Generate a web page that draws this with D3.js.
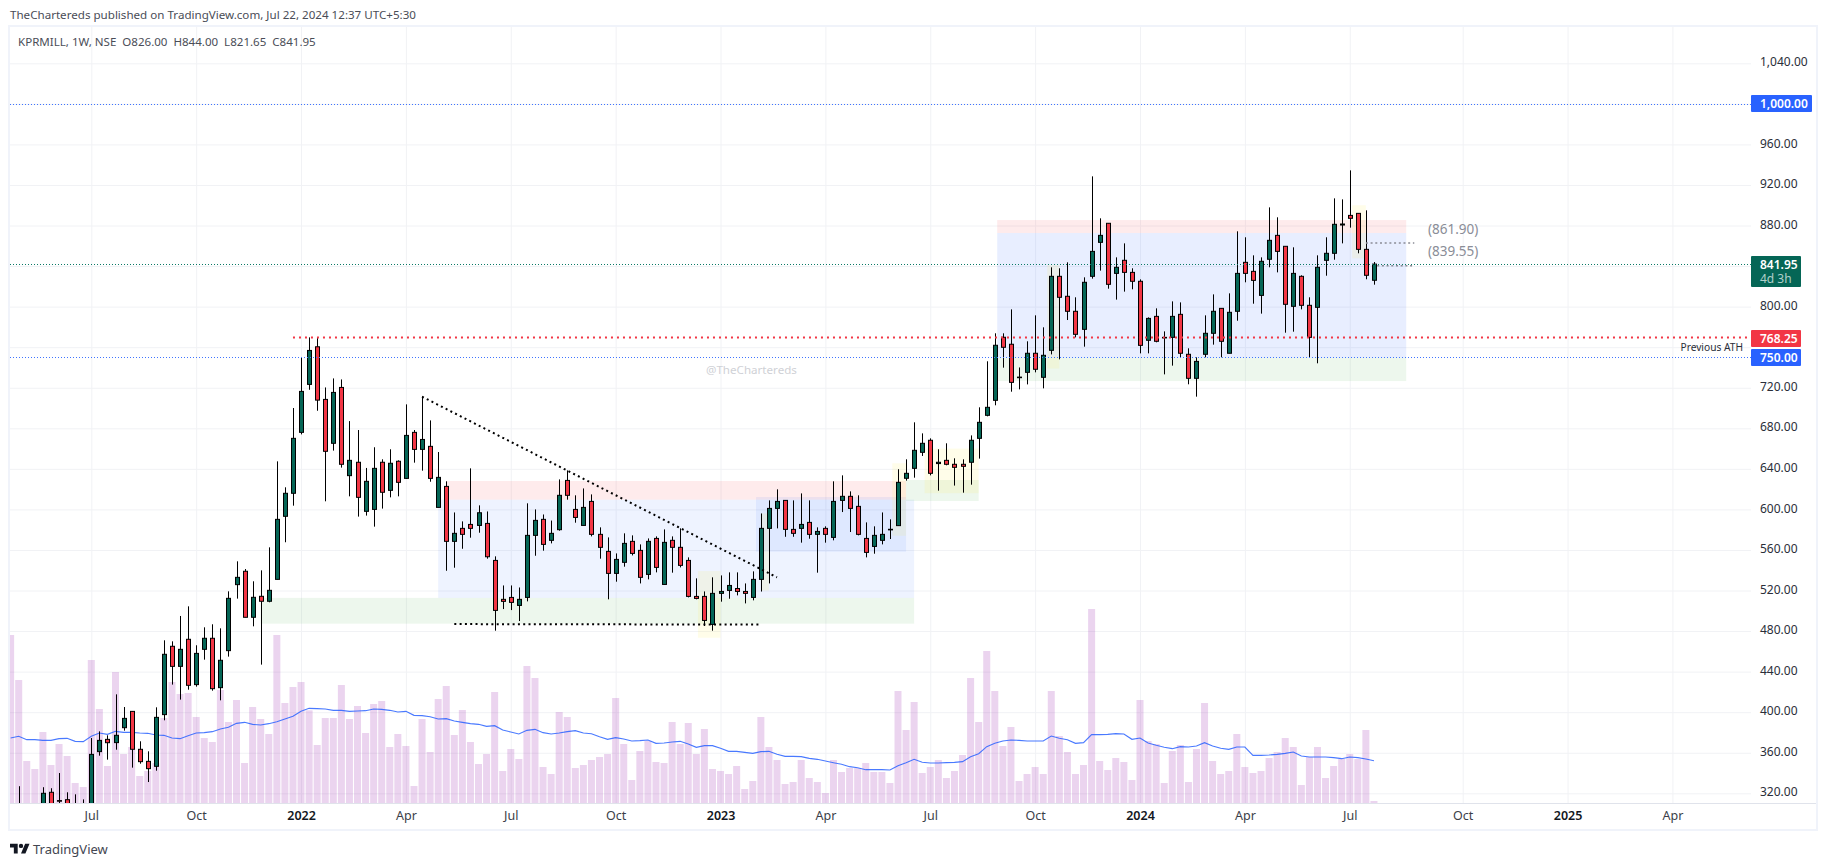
<!DOCTYPE html>
<html><head><meta charset="utf-8">
<script src="https://cdn.jsdelivr.net/npm/d3@7/dist/d3.min.js"></script>
<style>html,body{margin:0;padding:0;background:#fff;overflow:hidden}text{font-family:"Noto Sans",sans-serif}</style>
</head><body><svg id="c" width="1827" height="866"></svg>
<script>
// Weekly bars: index 0 = first week of Jul 2021
const firstIndex = -10;
const opens = [296,305,300,302,305,321,312.8,313.7,305,300,
302,361.1,373.2,370,384.7,400.8,363.4,351.5,346.6,397.6,
465,445.2,471.9,427.2,462,472.9,424.2,460.7,525.8,539,
493.6,514.3,509.4,531,593.2,615.9,676,723.3,760.4,708.5,
665.2,720.3,633.3,646.5,598.1,600,646.5,618.8,647.5,630.6,
676,659.2,662.2,602,622.7,568.5,581.3,585.2,584.2,586.2,
549.7,511.3,513.2,505.3,513.2,574.4,590.2,569.5,580,628.6,
600,584.2,607.9,575.4,558.6,536.9,547.8,568.5,559.6,535.9,
571.4,526,569.5,562.6,549.7,514.2,514.2,486.6,517.2,520.1,
522,519.1,513.2,531,581.3,601,608.9,580.3,581.3,587.2,
575.4,581.3,572.4,608.9,612.9,603,571.4,563.5,569.5,580.3,
584,630.7,640.5,656.3,668.2,645.2,648.4,644.5,644.5,646.5,
670.1,692.8,707.6,769.8,762.9,730.3,735.2,754,730.3,756.9,
829.9,810.2,795.4,777.6,829.9,863.4,882.2,832.8,845.7,833.8,
825,766.8,790.4,769.7,769.7,792.4,753,729.3,753,773.7,
798.3,754,795.4,843.7,834.8,811.1,846.7,870.3,859.5,800.3,
829.9,801.3,799.3,845.7,852.6,880.5,890,892,856.5,826];
const highs = [305,327,308,309,326,325,340,321,319,314,
374.5,381.1,377.2,417.6,405.1,400.8,371.3,361.4,404.8,470.9,
469.9,494.9,504.4,466,483.7,486.7,482.7,519.2,548.8,541.2,
529.1,539.9,562.6,647.4,621.8,700,749.6,769.7,769,720.3,
729.2,728.2,687.1,678.3,640.9,661.3,649.4,659.3,648.4,703.6,
678.3,711.2,687.8,656.6,627.7,597,588.2,640.5,604,598,
553.7,525,525,523,606,600,595,589,629.6,638.5,
613.9,620.7,614.8,582.3,572.4,556.6,576.4,574.4,565.5,571.4,
573.4,580.3,573.4,581.3,552.7,532,519.1,533,534.9,537.9,
537.9,527,538.9,596,608.9,619.8,608.9,608.9,615.8,608.9,
582.3,583.3,627.7,633.6,617.8,613.9,587.2,583.3,597,590.2,
639.6,649.4,685.9,675,670.1,659.3,665.2,650.4,649.4,673,
700.7,746.1,773.7,773.7,797.3,740,765.8,791.4,779.6,838.8,
837.8,843.7,809.2,828.9,928.5,887.1,882.2,848.6,862.4,837.8,
826.9,789.4,798.3,775.6,805.2,804.2,758.9,750,791.4,812.1,
798.3,813.1,874.3,868.4,850.6,848.6,897.9,888.1,859.5,858.5,
830.9,809.2,850.6,868.4,906.8,905.8,934.4,892,895,844];
const lows = [290,295,295,296,300,300,300,303,298,296,
296,357.1,353.2,363,381.8,345.3,349.2,331.1,342.3,392,
427.2,412.4,422.2,425.2,451.8,421.2,411.7,454.8,512,493.6,
484.7,446.9,508.4,531,567.6,603.7,674,718,697.3,608,
658,641.2,612.9,592.9,593.9,583,600.8,611.9,612.9,630,
646.1,638.2,627.3,602,539.5,542.5,561.2,572.1,577,551.4,
480.4,501.7,500.7,489.9,509.3,554.3,559.3,566.5,579,609.6,
586.9,584.2,573.4,551.4,511.3,528.7,543.5,554.6,527,531,
537.9,526,537.6,542.8,513.2,511.3,485,480.4,509,511.9,
515.2,507.3,510.3,519,527,581.3,573,573,567.2,571.1,
537.6,567.2,569.5,597.4,577.7,574.4,552.7,556.3,565.5,570.8,
584,628.4,631.3,652.7,633.6,618.5,643.5,623.5,616.5,624.4,
650.1,691.8,702.7,739.8,716.1,718.4,723.3,735.2,719.4,752.9,
748,786.8,769.7,760.5,827.6,835.5,817.7,806.9,814.8,817.1,
753.9,753.9,764.8,733.2,741.8,750,723.4,711.2,750,762.5,
750,754,786.1,824,802.9,793.1,838.8,833.8,774.3,775.3,
797.3,750,744.1,830.5,846.3,862.4,877.9,852.6,827,821.65];
const closes = [300,300,302,300,320,303,312.7,305,300,298,
358.4,372.2,369.9,377.2,393.9,363.4,351.2,344.3,394.9,457.1,
445.2,462,426.5,458,472.9,423.2,451.2,512.3,533,493.6,
513.3,509.4,520.2,590.2,615.9,670.1,716.4,756.8,707.8,657.3,
715.4,644.5,648.4,611.9,627.7,640.5,616.9,645.5,626.7,673,
659.2,669,630.6,631.6,568.5,576.4,575.4,581.3,596.7,553.3,
500.4,509.3,508.3,511.3,574.4,589.2,565.5,576.4,613.9,613.9,
592.1,602,575.4,562.6,536.9,550.7,566.5,556.6,533,568.5,
542.8,567.5,562.6,544.8,514.2,512.2,490.5,517.2,519.1,525,
519.1,517.2,531,581.3,601,607.9,580.3,576.4,585.2,575.4,
578.3,575.4,607.9,612.9,601,575.4,557.6,574.4,575.4,580.4,
626.7,635.6,658.3,665.2,635.6,646.5,644.5,641.5,642.5,668.2,
685.9,700.7,761.9,759.9,725.3,730.5,754,738.2,752,829.9,
809.2,795.4,772.7,824,854.5,870.3,822,838.8,833.8,825,
761.8,788.4,765.8,769.7,790.4,754,729.3,746,773.7,795.4,
765.8,794.4,832.8,832.8,825.9,844.7,865.4,854.5,802.3,832.8,
801.3,769.7,838.8,852.6,881.2,881.5,887.1,856.5,830.9,841.95];
const volumes = [504,369,126,102,213,114,177,141,60,48,
429,282,111,393,147,168,81,96,120,255,
363,327,330,258,195,183,339,243,309,120,
288,252,207,504,300,348,363,278,174,255,
255,354,252,291,210,297,306,168,207,171,
51,252,153,312,351,204,279,183,117,147,
333,96,162,132,411,375,108,87,273,258,
105,114,129,138,147,315,177,69,156,186,
123,120,243,177,240,147,222,102,96,87,
111,42,66,258,168,129,57,63,129,75,
63,30,129,93,105,105,120,93,93,60,
336,219,303,90,108,129,75,96,144,375,
243,456,336,171,228,66,87,108,87,336,
201,153,87,114,582,126,99,135,123,69,
309,186,177,60,156,174,63,162,300,126,
87,96,207,108,90,96,135,153,195,168,
54,138,168,75,111,132,147,132,219,6];
const volumeMA = [195,200,190,190,188,188,193,194,185,184,
200,210,206,215,212,212,210,209,204,203,
195,193,202,210,211,214,222,227,239,242,
236,234,238,244,252,260,275,284,283,282,
278,278,275,276,277,282,281,278,273,275,
263,262,259,252,253,246,242,238,236,230,
232,219,213,207,218,221,211,207,210,214,
217,210,208,199,191,196,192,186,187,189,
179,180,183,185,177,167,172,172,164,155,
155,152,149,154,155,146,140,140,139,134,
131,126,121,116,109,106,100,100,100,99,
112,121,131,122,120,120,121,122,124,139,
148,169,179,186,189,188,186,186,186,201,
194,190,179,181,205,205,206,208,207,191,
195,180,173,167,163,169,168,171,181,171,
164,161,168,168,143,143,144,146,149,153,
141,138,138,138,136,133,138,136,132,127];
const priceTicks = [1040,1000,960,920,880,840,800,760,720,680,640,600,560,520,480,440,400,360,320];
const priceTagged = [1000,840,760]; // tick texts the reference hides behind its price tags
const timeTickIndex = [0,13,26,39,52,65,78,91,104,117,130,143,156,170,183,196];
const timeTickLabels = ["Jul","Oct","2022","Apr","Jul","Oct","2023","Apr","Jul","Oct","2024","Apr","Jul","Oct","2025","Apr"];
// Drawn zones: [start bar, end bar, upper price, lower price]
const redZones = [[44,101,628,609.6],[112.3,163,885.4,872.6]];
const blueZones = [[43,102,609.6,512.7],[82.4,101,612.2,558.3]];
const blueZonesStrong = [[112.3,163,872.6,749.7]];
const greenZones = [[21,102,512.7,487.3],[101,110,629,608.3],[112.3,163,749.7,726.6]];
const yellowZones = [[75.2,78,539.2,473.4],[83,84,596,520],[99.3,101,645.5,574],[103.3,110,660,616],[118.5,120,841,739],[156.3,158,900,847.6]];
// Trend lines: [start bar, start price, end bar, end price]
const blackDotted = [[41,711.2,85,533],[45,486.9,83,486.4]];
const greyDotted = [[158,862.8,164,862.8],[159.4,840.4,164,840.4]];
const levelBlue = [1000,750];
const lastPrice = 841.95;
const athLine = 770;

const svg = d3.select("#c");
const L=10,R=1751,T=27,B=803;
const x = d3.scaleLinear().domain([0,159]).range([91.3,91.3+159*8.067]);
const y = d3.scaleLinear().domain([1040,320]).range([63.3,793.3]);
const yv = d3.scaleLinear().domain([0,600]).range([B,B-200]);
const bars = opens.map((o,i)=>({i:i+firstIndex,o,h:highs[i],l:lows[i],c:closes[i],v:volumes[i],m:volumeMA[i]}));
const GREEN="#056656",RED="#f23645",BLUE="#2962ff",GRID="#f1f2f5",BORDER="#f0f3fa";

// Frame
svg.append("rect").attr("width",1827).attr("height",866).attr("fill","#fff");
svg.append("rect").attr("x",L-1).attr("y",T-1).attr("width",1817-L+1).attr("height",830-T+1)
  .attr("fill","none").attr("stroke",BORDER).attr("stroke-width",2);

// Axes with grid
const gx = svg.append("g").attr("transform",`translate(0,${B})`)
  .call(d3.axisBottom(x).tickValues(timeTickIndex).tickFormat((d,i)=>timeTickLabels[i]).tickSize(-(B-T)).tickPadding(8));
gx.select(".domain").remove();
gx.selectAll("line").attr("stroke",GRID);
gx.selectAll("text").attr("font-size",12.5).attr("fill","#3b3e48")
  .filter((d,i)=>/^20/.test(timeTickLabels[i])).attr("font-weight",600).attr("fill","#131722");
const gy = svg.append("g").attr("transform",`translate(${R},0)`)
  .call(d3.axisRight(y).tickValues(priceTicks).tickFormat(d=>priceTagged.includes(d)?"":d3.format(",.2f")(d)).tickSize(-(R-L)).tickPadding(9));
gy.select(".domain").remove();
gy.selectAll("line").attr("stroke",GRID);
gy.selectAll("text").attr("font-size",12).attr("fill","#2a2e39").attr("dy","0.22em");
svg.append("line").attr("x1",L).attr("x2",R+65).attr("y1",B+.5).attr("y2",B+.5).attr("stroke","#e0e3eb");

// Clip
svg.append("clipPath").attr("id","plot").append("rect").attr("x",L).attr("y",T).attr("width",R-L).attr("height",B-T);
const plot = svg.append("g").attr("clip-path","url(#plot)");

// Zones
function zones(arr,fill){
  plot.append("g").selectAll("rect").data(arr).join("rect")
    .attr("x",d=>x(d[0])).attr("width",d=>x(d[1])-x(d[0]))
    .attr("y",d=>y(d[2])).attr("height",d=>y(d[3])-y(d[2])).attr("fill",fill);
}
zones(redZones,"rgba(242,54,69,0.10)");
zones(blueZones,"rgba(41,98,255,0.08)");
zones(blueZonesStrong,"rgba(41,98,255,0.11)");
zones(greenZones,"rgba(76,175,80,0.10)");
zones(yellowZones,"rgba(255,235,59,0.11)");

// Volume
plot.append("g").selectAll("rect").data(bars).join("rect")
  .attr("x",d=>x(d.i)-3.5).attr("width",7)
  .attr("y",d=>yv(d.v)).attr("height",d=>B-yv(d.v)).attr("fill","rgba(156,39,176,0.2)");
plot.append("path").datum(bars).attr("fill","none").attr("stroke",BLUE).attr("stroke-opacity",.85).attr("stroke-width",1.1)
  .attr("d",d3.line().x(d=>x(d.i)).y(d=>yv(d.m)));

// Watermark
svg.append("text").attr("x",706).attr("y",374).attr("font-size",11.6).attr("fill","#cfd1d6").text("@TheChartereds");

// Candles
const cg = plot.append("g").selectAll("g").data(bars).join("g");
cg.append("line").attr("x1",d=>Math.round(x(d.i))+.5).attr("x2",d=>Math.round(x(d.i))+.5)
  .attr("y1",d=>y(d.h)).attr("y2",d=>y(d.l)).attr("stroke","#000").attr("stroke-width",1);
cg.append("rect").attr("x",d=>Math.round(x(d.i))-1.5).attr("width",4)
  .attr("y",d=>y(Math.max(d.o,d.c))).attr("height",d=>Math.max(.6,Math.abs(y(d.o)-y(d.c))))
  .attr("fill",d=>d.c>=d.o?GREEN:RED).attr("stroke","#000").attr("stroke-width",1);

// Horizontal levels
const hline = (v,col,w,dash,x1)=>plot.append("line").attr("x1",x1).attr("x2",R).attr("y1",Math.round(y(v))+.5).attr("y2",Math.round(y(v))+.5)
  .attr("stroke",col).attr("stroke-width",w).attr("stroke-dasharray",dash);
levelBlue.forEach(v=>hline(v,"#3f74ff",1.2,"1,2",L));
hline(lastPrice,"#0b7a67",1.2,"1,2",L);
hline(athLine,RED,2,"2,4",x(25));

// Trend lines
plot.append("g").selectAll("line").data(blackDotted).join("line")
  .attr("x1",d=>x(d[0])).attr("y1",d=>y(d[1])).attr("x2",d=>x(d[2])).attr("y2",d=>y(d[3]))
  .attr("stroke","#000").attr("stroke-width",2).attr("stroke-dasharray","2,3.3");
plot.append("g").selectAll("line").data(greyDotted).join("line")
  .attr("x1",d=>x(d[0])).attr("y1",d=>y(d[1])).attr("x2",d=>x(d[2])).attr("y2",d=>y(d[3]))
  .attr("stroke","#8a8c96").attr("stroke-width",1.5).attr("stroke-dasharray","2,2.7");

// Notes
svg.append("text").attr("x",1428).attr("y",234).attr("font-size",13.5).attr("fill","#8a8d97").text("(861.90)");
svg.append("text").attr("x",1428).attr("y",256).attr("font-size",13.5).attr("fill","#8a8d97").text("(839.55)");
svg.append("text").attr("x",1743).attr("y",351).attr("text-anchor","end").attr("font-size",10.2).attr("fill","#2a2e39").text("Previous ATH");

// Price labels
function tag(text,col,yTop,h,w){
  svg.append("rect").attr("x",R).attr("y",yTop).attr("width",w).attr("height",h).attr("rx",1).attr("fill",col);
  svg.append("text").attr("x",R+9).attr("y",yTop+13).attr("font-size",12).attr("font-weight",600).attr("fill","#fff").text(text);
}
tag("1,000.00",BLUE,95,17,61);
tag("841.95",GREEN,256,31,50);
svg.append("text").attr("x",R+9).attr("y",283).attr("font-size",12).attr("fill","#fff").attr("fill-opacity",.7).text("4d 3h");
tag("768.25",RED,330,17,50);
tag("750.00",BLUE,349,17,50);

// Header & footer
svg.append("text").attr("x",10).attr("y",19).attr("font-size",11.6).attr("fill","#4a4d57").text("TheChartereds published on TradingView.com, Jul 22, 2024 12:37 UTC+5:30");
svg.append("text").attr("x",18).attr("y",46).attr("font-size",11.55).attr("fill","#4a4d57").style("white-space","pre").text("KPRMILL, 1W, NSE  O826.00  H844.00  L821.65  C841.95");
const logo = svg.append("g").attr("transform","translate(10,841.5) scale(.55)").attr("fill","#131722");
logo.append("path").attr("d","M14 22H7V11H0V4h14v18zM28 22h-8l7.5-18h8L28 22z");
logo.append("circle").attr("cx",20).attr("cy",8).attr("r",4);
svg.append("text").attr("x",33).attr("y",854).attr("font-size",13).attr("fill","#434651").text("TradingView");
</script></body></html>
